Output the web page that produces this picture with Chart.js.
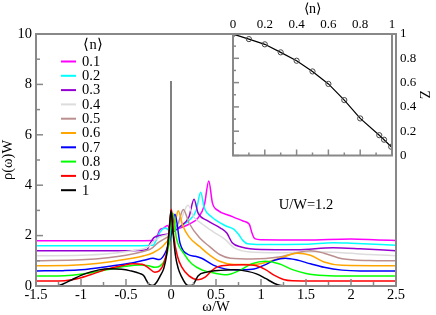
<!DOCTYPE html>
<html>
<head>
<meta charset="utf-8">
<script src="https://cdn.jsdelivr.net/npm/chart.js@4.4.1/dist/chart.umd.min.js"></script>
<style>
  html, body { margin: 0; padding: 0; background: #fff; }
  #wrap { position: relative; width: 436px; height: 315px; }
  #main { position: absolute; left: 0; top: 0; }
  #inset { position: absolute; left: 223px; top: 0; }
</style>
</head>
<body>
<div id="wrap">
  <canvas id="main" width="436" height="315"></canvas>
  <canvas id="inset" width="213" height="170"></canvas>
</div>
<script>
// fillings <n> shown in the legend, one curve each (curves are offset by 0.2 per filling)
const fillings = ['0.1', '0.2', '0.3', '0.4', '0.5', '0.6', '0.7', '0.8', '0.9', '1'];
const lineColors = ['#ff00ff', '#00ffff', '#9400d3', '#dcdcdc', '#bc8f8f', '#ffa500', '#0000ff', '#00ff00', '#ff0000', '#000000'];

// omega/W and rho(omega)W
const w01 = [-1.5, -0.5, -0.17, -0.15, -0.13, -0.08, -0.04, 0, 0.1, 0.2, 0.3, 0.37, 0.42, 0.46, 0.52, 0.65, 0.8, 0.87, 0.9, 0.93, 1.0, 1.5, 2.0, 2.3, 2.5];
const rho01 = [1.8, 1.8, 1.81, 2.0, 2.2, 2.3, 2.4, 2.2, 2.3, 2.45, 2.7, 3.2, 4.17, 3.3, 3.0, 2.8, 2.58, 2.45, 2.1, 1.88, 1.84, 1.83, 1.87, 1.83, 1.81];

const w02 = [-1.5, -0.5, -0.2, -0.16, -0.12, -0.06, 0, 0.1, 0.2, 0.28, 0.33, 0.37, 0.45, 0.6, 0.7, 0.75, 0.8, 0.85, 1.0, 1.5, 1.8, 2.0, 2.5];
const rho02 = [1.6, 1.6, 1.62, 1.85, 2.15, 2.3, 2.15, 2.35, 2.6, 3.0, 3.72, 3.1, 2.75, 2.4, 2.25, 2.05, 1.8, 1.68, 1.65, 1.66, 1.72, 1.7, 1.62];

const w03 = [-1.5, -0.5, -0.27, -0.23, -0.19, -0.1, 0, 0.1, 0.2, 0.256, 0.3, 0.4, 0.55, 0.62, 0.68, 0.78, 1.0, 1.4, 1.8, 2.1, 2.5];
const rho03 = [1.4, 1.4, 1.44, 1.7, 1.92, 2.02, 2.1, 2.35, 2.75, 3.44, 2.9, 2.6, 2.3, 2.1, 1.72, 1.55, 1.45, 1.44, 1.52, 1.48, 1.4];

const w04 = [-1.5, -1.0, -0.7, -0.4, -0.25, -0.2, -0.12, 0, 0.1, 0.19, 0.25, 0.35, 0.47, 0.6, 0.7, 0.85, 1.2, 1.6, 1.9, 2.2, 2.5];
const rho04 = [1.2, 1.22, 1.28, 1.42, 1.56, 1.75, 1.95, 2.1, 2.55, 3.2, 2.75, 2.45, 2.15, 1.85, 1.52, 1.36, 1.32, 1.36, 1.32, 1.25, 1.2];

const w05 = [-1.5, -1.0, -0.7, -0.5, -0.3, -0.22, -0.15, -0.05, 0, 0.08, 0.137, 0.2, 0.32, 0.43, 0.54, 0.66, 0.9, 1.2, 1.4, 1.55, 1.7, 1.9, 2.2, 2.5];
const rho05 = [1.0, 1.04, 1.12, 1.22, 1.38, 1.48, 1.7, 1.92, 2.05, 2.5, 3.04, 2.5, 1.9, 1.56, 1.25, 1.1, 1.07, 1.15, 1.32, 1.4, 1.3, 1.08, 1.01, 1.0];

const w06 = [-1.5, -1.1, -0.8, -0.5, -0.3, -0.2, -0.1, 0, 0.04, 0.08, 0.13, 0.2, 0.32, 0.43, 0.54, 0.7, 0.9, 1.1, 1.25, 1.4, 1.55, 1.7, 1.9, 2.5];
const rho06 = [0.8, 0.82, 0.9, 1.06, 1.2, 1.32, 1.55, 2.0, 2.4, 2.99, 2.4, 1.95, 1.56, 1.23, 0.98, 0.85, 0.85, 0.98, 1.15, 1.3, 1.22, 0.95, 0.82, 0.8];

const w07 = [-1.5, -1.2, -1.0, -0.7, -0.46, -0.3, -0.2, -0.13, -0.06, 0, 0.044, 0.1, 0.19, 0.27, 0.34, 0.47, 0.6, 0.75, 0.9, 1.05, 1.15, 1.27, 1.4, 1.55, 1.7, 1.9, 2.1, 2.5];
const rho07 = [0.6, 0.61, 0.64, 0.77, 0.9, 1.02, 1.1, 1.05, 1.35, 2.0, 2.85, 1.7, 1.25, 1.18, 1.1, 0.83, 0.68, 0.64, 0.66, 0.85, 1.02, 1.1, 1.03, 0.88, 0.74, 0.63, 0.6, 0.6];

const w08 = [-1.5, -1.25, -1.1, -0.9, -0.7, -0.5, -0.35, -0.25, -0.18, -0.12, -0.06, -0.02, 0.02, 0.06, 0.14, 0.23, 0.35, 0.5, 0.62, 0.75, 0.9, 1.05, 1.2, 1.35, 1.5, 1.7, 2.0, 2.5];
const rho08 = [0.4, 0.4, 0.43, 0.52, 0.65, 0.78, 0.83, 0.8, 0.74, 0.8, 1.1, 1.7, 2.9, 1.9, 1.3, 0.88, 0.63, 0.5, 0.45, 0.6, 0.88, 0.98, 0.88, 0.65, 0.5, 0.42, 0.4, 0.4];

const w09 = [-1.5, -1.25, -1.1, -1.0, -0.85, -0.7, -0.55, -0.42, -0.32, -0.25, -0.18, -0.13, -0.08, -0.04, 0.005, 0.03, 0.07, 0.12, 0.2, 0.3, 0.38, 0.45, 0.52, 0.65, 0.8, 0.95, 1.05, 1.15, 1.25, 1.35, 1.6, 2.5];
const rho09 = [0.2, 0.2, 0.25, 0.33, 0.5, 0.68, 0.8, 0.88, 0.86, 0.72, 0.55, 0.6, 0.9, 1.5, 3.05, 2.0, 1.2, 0.75, 0.4, 0.25, 0.35, 0.6, 0.77, 0.83, 0.84, 0.8, 0.65, 0.42, 0.26, 0.21, 0.2, 0.2];

const w10 = [-1.5, -1.28, -1.2, -1.1, -1.0, -0.9, -0.8, -0.68, -0.55, -0.45, -0.35, -0.3, -0.27, -0.24, -0.2, -0.16, -0.12, -0.08, -0.05, -0.02, 0, 0.02, 0.05, 0.08, 0.12, 0.16, 0.19, 0.24, 0.27, 0.3, 0.4, 0.55, 0.7, 0.85, 0.95, 1.05, 1.15, 1.22, 1.3, 2.5];
const rho10 = [0, 0, 0.08, 0.25, 0.42, 0.55, 0.64, 0.68, 0.66, 0.6, 0.5, 0.4, 0.2, 0.05, 0.02, 0.15, 0.4, 0.7, 1.2, 2.2, 3.0, 2.2, 1.2, 0.7, 0.35, 0.1, 0.02, 0.03, 0.2, 0.4, 0.55, 0.62, 0.64, 0.58, 0.48, 0.3, 0.1, 0.02, 0, 0];

// quasiparticle delta peak at omega = 0
const deltaW = [0, 0];
const deltaRho = [0, 8.13];

// inset: quasiparticle weight Z vs <n>
const insetN = [0, 0.1, 0.2, 0.3, 0.4, 0.5, 0.6, 0.7, 0.8, 0.92, 0.95, 0.995];
const insetZ = [1.0, 0.958, 0.915, 0.849, 0.78, 0.692, 0.589, 0.456, 0.305, 0.167, 0.13, 0.072];

const omegas = [w01, w02, w03, w04, w05, w06, w07, w08, w09, w10];
const rhos = [rho01, rho02, rho03, rho04, rho05, rho06, rho07, rho08, rho09, rho10];

const FONT = "'Liberation Serif'";
const AXIS_GRAY = '#888';

function zip(xs, ys) {
    return xs.map((x, i) => ({ x: x, y: ys[i] }));
}

// plain tick text: 1 instead of 1.0
function plainTick(v) {
    return String(Math.round(v * 100) / 100);
}

// frame around the plot area and inward ticks (grace style)
const frameTicks = {
    id: 'frameTicks',
    afterDraw(chart, args, opts) {
        const ctx = chart.ctx;
        const a = chart.chartArea;
        ctx.save();
        ctx.strokeStyle = AXIS_GRAY;
        ctx.lineWidth = 2;
        ctx.strokeRect(a.left, a.top, a.right - a.left, a.bottom - a.top);
        ctx.lineWidth = 1.5;
        (opts.ticks || []).forEach(t => {
            const sc = chart.scales[t.axis];
            const n = Math.round((sc.max - sc.min) / t.minor);
            for (let i = 0; i <= n; i++) {
                const v = sc.min + i * t.minor;
                const r = v / t.major;
                const len = Math.abs(r - Math.round(r)) < 1e-6 ? t.majLen : t.minLen;
                const p = sc.getPixelForValue(v);
                ctx.beginPath();
                if (t.edge === 'bottom') {
                    ctx.moveTo(p, a.bottom);
                    ctx.lineTo(p, a.bottom - len);
                } else {
                    ctx.moveTo(a.left, p);
                    ctx.lineTo(a.left + len, p);
                }
                ctx.stroke();
            }
        });
        ctx.restore();
    }
};

// legend block and the U/W note, drawn inside the main plot
const annotations = {
    id: 'annotations',
    afterDraw(chart, args, opts) {
        const ctx = chart.ctx;
        ctx.save();
        ctx.font = '14.5px ' + FONT;
        ctx.fillStyle = '#000';
        ctx.textBaseline = 'middle';
        ctx.textAlign = 'center';
        ctx.fillText('\u27E8n\u27E9', 93, 45);
        ctx.fillText(opts.note, 306, 205);
        ctx.textAlign = 'left';
        let row = 0;
        chart.data.datasets.forEach(ds => {
            if (!ds.label) return;
            const y = 61.5 + row * 14.3;
            ctx.strokeStyle = ds.borderColor;
            ctx.lineWidth = 2;
            ctx.beginPath();
            ctx.moveTo(61, y);
            ctx.lineTo(76, y);
            ctx.stroke();
            ctx.fillText(ds.label, 82, y + 0.5);
            row++;
        });
        ctx.restore();
    }
};

const mainSets = fillings.map((f, i) => ({
    label: f,
    data: zip(omegas[i], rhos[i]),
    borderColor: lineColors[i],
    borderWidth: 1.5,
    pointRadius: 0,
    cubicInterpolationMode: 'monotone',
    order: 10 - i
}));
mainSets.push({
    label: '',
    data: zip(deltaW, deltaRho),
    borderColor: '#808080',
    borderWidth: 2,
    pointRadius: 0,
    order: 20
});

new Chart(document.getElementById('main'), {
    type: 'line',
    data: { datasets: mainSets },
    options: {
        responsive: false,
        animation: false,
        devicePixelRatio: 1,
        layout: { padding: { top: 34, right: 40, left: 0, bottom: 0 } },
        plugins: {
            legend: { display: false },
            tooltip: { enabled: false },
            frameTicks: {
                ticks: [
                    { axis: 'x', edge: 'bottom', minor: 0.25, major: 0.5, majLen: 7, minLen: 4 },
                    { axis: 'y', edge: 'left', minor: 1, major: 2, majLen: 7, minLen: 4 }
                ]
            },
            annotations: { note: 'U/W=1.2' }
        },
        scales: {
            x: {
                type: 'linear',
                min: -1.5,
                max: 2.5,
                grid: { display: false, drawTicks: false },
                border: { display: false },
                ticks: {
                    stepSize: 0.5,
                    padding: 2,
                    color: '#000',
                    maxRotation: 0,
                    callback: plainTick,
                    font: { family: FONT, size: 14.5, lineHeight: 1 }
                },
                title: {
                    display: true,
                    text: 'ω/W',
                    color: '#000',
                    padding: { top: 0, bottom: 1 },
                    font: { family: FONT, size: 14.5, lineHeight: 1 }
                },
                afterFit: s => { s.height = 29; }
            },
            y: {
                min: 0,
                max: 10,
                grid: { display: false, drawTicks: false },
                border: { display: false },
                ticks: {
                    stepSize: 2,
                    padding: 4,
                    color: '#000',
                    callback: plainTick,
                    font: { family: FONT, size: 14.5, lineHeight: 1 }
                },
                title: {
                    display: true,
                    text: 'ρ(ω)W',
                    color: '#000',
                    padding: { top: 1, bottom: 0 },
                    font: { family: FONT, size: 14.5, lineHeight: 1 }
                },
                afterFit: s => { s.width = 36; }
            }
        }
    },
    plugins: [frameTicks, annotations]
});

new Chart(document.getElementById('inset'), {
    type: 'line',
    data: {
        datasets: [{
            data: zip(insetN, insetZ),
            borderColor: '#000',
            borderWidth: 1.2,
            pointRadius: 2.6,
            pointBorderWidth: 1,
            pointBorderColor: '#444',
            pointBackgroundColor: 'rgba(255,255,255,0)',
            tension: 0
        }]
    },
    options: {
        responsive: false,
        animation: false,
        devicePixelRatio: 1,
        layout: { padding: { top: 0, right: 0, left: 10, bottom: 11 } },
        plugins: {
            legend: { display: false },
            tooltip: { enabled: false },
            frameTicks: {
                ticks: [
                    { axis: 'x', edge: 'bottom', minor: 0.1, major: 0.2, majLen: 6, minLen: 3 },
                    { axis: 'y', edge: 'left', minor: 0.1, major: 0.2, majLen: 6, minLen: 3 }
                ]
            }
        },
        scales: {
            x: {
                type: 'linear',
                position: 'top',
                min: 0,
                max: 1,
                grid: { display: false, drawTicks: false },
                border: { display: false },
                ticks: {
                    stepSize: 0.2,
                    padding: 2.5,
                    color: '#000',
                    maxRotation: 0,
                    callback: plainTick,
                    font: { family: FONT, size: 13, lineHeight: 1 }
                },
                title: {
                    display: true,
                    text: '\u27E8n\u27E9',
                    color: '#000',
                    padding: { top: 2.5, bottom: 0 },
                    font: { family: FONT, size: 14, lineHeight: 1 }
                },
                afterFit: s => { s.height = 34; }
            },
            y: {
                position: 'right',
                min: 0,
                max: 1,
                grid: { display: false, drawTicks: false },
                border: { display: false },
                ticks: {
                    stepSize: 0.2,
                    padding: 8,
                    color: '#000',
                    callback: plainTick,
                    font: { family: FONT, size: 13, lineHeight: 1 }
                },
                title: {
                    display: true,
                    text: 'Z',
                    color: '#000',
                    padding: { top: 5, bottom: 0 },
                    font: { family: FONT, size: 14, lineHeight: 1 }
                },
                afterFit: s => { s.width = 44; }
            }
        }
    },
    plugins: [frameTicks]
});
</script>
</body>
</html>
